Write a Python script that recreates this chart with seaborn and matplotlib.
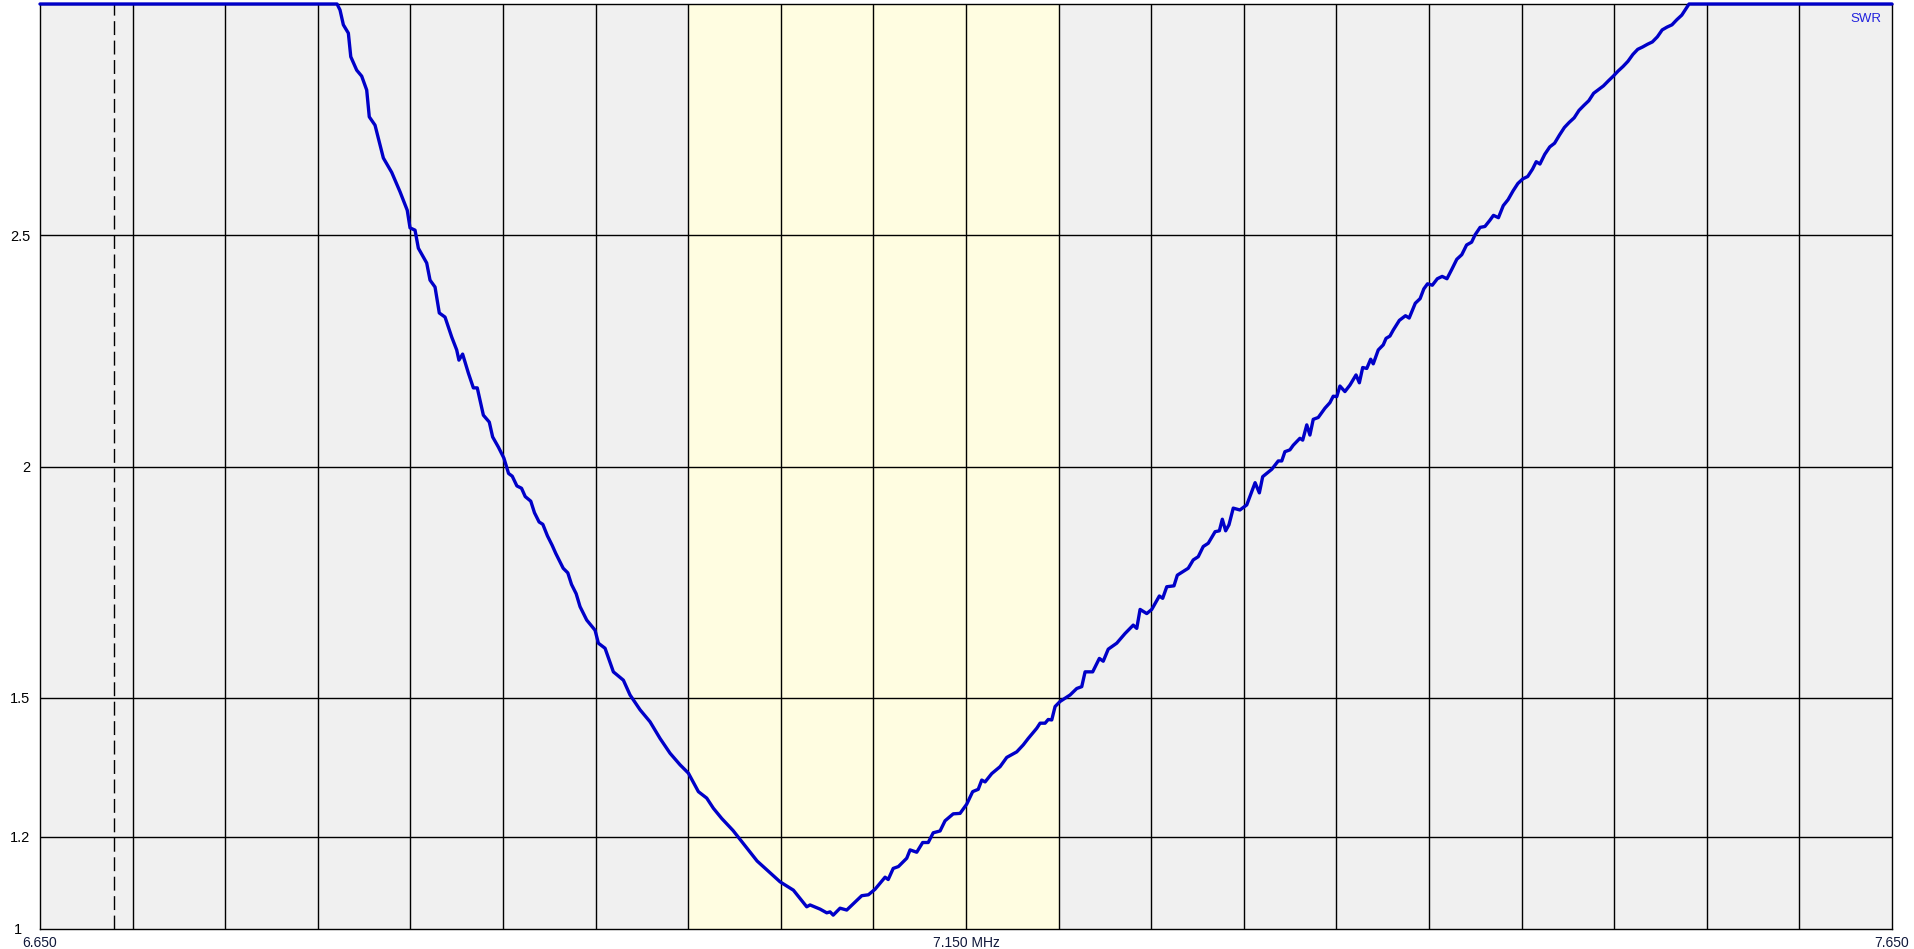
import numpy as np
import pandas as pd
import seaborn as sns
import matplotlib.pyplot as plt
from matplotlib.transforms import ScaledTranslation

# Dados da varredura (frequência em MHz, SWR)
freq_mhz = [
    6.6500, 6.8104, 6.8120, 6.8138, 6.8165, 6.8178, 6.8210, 6.8237, 6.8264, 6.8278,
    6.8309, 6.8354, 6.8399, 6.8444, 6.8483, 6.8498, 6.8525, 6.8543, 6.8588, 6.8606,
    6.8633, 6.8656, 6.8687, 6.8723, 6.8750, 6.8762, 6.8782, 6.8813, 6.8840, 6.8861,
    6.8894, 6.8926, 6.8944, 6.8975, 6.9005,
    6.9030, 6.9050, 6.9075, 6.9100, 6.9120, 6.9150, 6.9170, 6.9195, 6.9215, 6.9240,
    6.9265, 6.9285, 6.9300, 6.9325, 6.9350, 6.9370, 6.9395, 6.9416,
    6.9452, 6.9497, 6.9515, 6.9551, 6.9596, 6.9650, 6.9686, 6.9740, 6.9794, 6.9848,
    6.9902, 6.9956, 7.0001, 7.0055, 7.0100, 7.0136, 7.0181, 7.0242, 7.0372, 7.0496,
    7.0568, 7.0604, 7.0640, 7.0658, 7.0712, 7.0748, 7.0766, 7.0783, 7.0820, 7.0856,
    7.0937, 7.0973, 7.1009, 7.1063, 7.1080, 7.1107, 7.1135, 7.1180, 7.1198, 7.1234,
    7.1266, 7.1296, 7.1323, 7.1360, 7.1387, 7.1431, 7.1468, 7.1504, 7.1536, 7.1566,
    7.1585, 7.1603, 7.1639, 7.1684, 7.1720, 7.1774, 7.1809, 7.1836, 7.1882, 7.1900,
    7.1927, 7.1944, 7.1963, 7.1981, 7.2008, 7.2062, 7.2098, 7.2125, 7.2143, 7.2184,
    7.2220, 7.2241, 7.2268, 7.2314, 7.2359, 7.2403, 7.2422, 7.2440, 7.2476, 7.2503,
    7.2544, 7.2562, 7.2584, 7.2623, 7.2641, 7.2700, 7.2727, 7.2754, 7.2781, 7.2808,
    7.2845, 7.2868, 7.2884, 7.2902, 7.2920, 7.2943, 7.2979, 7.3016, 7.3033, 7.3061,
    7.3084, 7.3102, 7.3151, 7.3186, 7.3205, 7.3222, 7.3249, 7.3267, 7.3303, 7.3318,
    7.3340, 7.3357, 7.3375, 7.3402, 7.3438, 7.3465, 7.3483, 7.3502, 7.3519, 7.3546,
    7.3573, 7.3606, 7.3624, 7.3642, 7.3664, 7.3685, 7.3699, 7.3726, 7.3753, 7.3768,
    7.3789, 7.3807,
    7.3840, 7.3873, 7.3893, 7.3926, 7.3952, 7.3972, 7.3992, 7.4018, 7.4045, 7.4071,
    7.4097, 7.4124, 7.4150, 7.4177, 7.4203, 7.4230, 7.4249, 7.4276, 7.4302, 7.4328,
    7.4348, 7.4375, 7.4401, 7.4427, 7.4454, 7.4480, 7.4507, 7.4533, 7.4559, 7.4579,
    7.4599, 7.4625, 7.4652, 7.4678, 7.4705, 7.4731, 7.4757, 7.4784, 7.4810, 7.4837,
    7.4863, 7.4889, 7.4916, 7.4942, 7.4969, 7.4995, 7.5021, 7.5048, 7.5074, 7.5101,
    7.5127, 7.5153, 7.5180, 7.5206, 7.5233, 7.5259, 7.5285, 7.5312, 7.5338, 7.5365,
    7.5391, 7.5404, 7.6500,
]
swr = [
    3.000, 3.000, 2.987, 2.955, 2.937, 2.886, 2.857, 2.844, 2.814, 2.756,
    2.738, 2.667, 2.636, 2.594, 2.554, 2.516, 2.511, 2.472, 2.440, 2.403,
    2.388, 2.332, 2.323, 2.280, 2.252, 2.230, 2.243, 2.202, 2.170, 2.170,
    2.111, 2.096, 2.064, 2.042, 2.018,
    1.985, 1.979, 1.958, 1.953, 1.935, 1.925, 1.900, 1.880, 1.875, 1.850,
    1.830, 1.812, 1.800, 1.780, 1.770, 1.745, 1.725, 1.697,
    1.668, 1.646, 1.618, 1.607, 1.556, 1.538, 1.506, 1.474, 1.448, 1.412,
    1.380, 1.355, 1.337, 1.297, 1.283, 1.261, 1.239, 1.213, 1.147, 1.102,
    1.084, 1.066, 1.048, 1.052, 1.043, 1.035, 1.037, 1.030, 1.045, 1.041,
    1.072, 1.074, 1.086, 1.112, 1.107, 1.131, 1.135, 1.153, 1.171, 1.166,
    1.187, 1.187, 1.208, 1.212, 1.234, 1.249, 1.250, 1.270, 1.297, 1.302,
    1.322, 1.318, 1.336, 1.351, 1.371, 1.383, 1.398, 1.412, 1.434, 1.445,
    1.445, 1.453, 1.452, 1.481, 1.492, 1.506, 1.520, 1.524, 1.556, 1.556,
    1.585, 1.579, 1.605, 1.618, 1.639, 1.657, 1.650, 1.691, 1.682, 1.691,
    1.720, 1.715, 1.740, 1.742, 1.765, 1.780, 1.798, 1.805, 1.827, 1.834,
    1.859, 1.861, 1.886, 1.861, 1.874, 1.910, 1.906, 1.917, 1.935, 1.965,
    1.943, 1.978, 1.994, 2.012, 2.012, 2.032, 2.036, 2.046, 2.061, 2.057,
    2.090, 2.068, 2.102, 2.106, 2.126, 2.138, 2.152, 2.151, 2.174, 2.162,
    2.176, 2.198, 2.181, 2.214, 2.212, 2.232, 2.222, 2.252, 2.263, 2.277,
    2.282, 2.295,
    2.316, 2.326, 2.321, 2.353, 2.363, 2.384, 2.395, 2.392, 2.406, 2.411,
    2.406, 2.427, 2.448, 2.458, 2.479, 2.485, 2.501, 2.517, 2.519, 2.532,
    2.543, 2.538, 2.564, 2.577, 2.596, 2.612, 2.622, 2.627, 2.643, 2.659,
    2.654, 2.675, 2.691, 2.699, 2.717, 2.733, 2.744, 2.754, 2.770, 2.781,
    2.791, 2.807, 2.815, 2.823, 2.834, 2.844, 2.855, 2.865, 2.876, 2.891,
    2.902, 2.907, 2.913, 2.918, 2.929, 2.944, 2.950, 2.955, 2.966, 2.976,
    2.992, 3.000, 3.000,
]

# Eixos e marcações
x_min, x_max = 6.650, 7.650
x_grid_step = 0.05
x_tick_labels = {6.650: "6.650", 7.150: "7.150 MHz", 7.650: "7.650"}
y_min, y_max = 1.0, 3.0
y_ticks = [1.0, 1.2, 1.5, 2.0, 2.5]
y_tick_labels = ["1", "1.2", "1.5", "2", "2.5"]
band_start, band_end = 7.000, 7.200
marker_freq = 6.690

df = pd.DataFrame({"freq": freq_mhz, "swr": swr})

sns.set_style("white")
plt.rcParams["font.family"] = ["Liberation Sans", "DejaVu Sans"]

fig = plt.figure(figsize=(19.15, 9.49), dpi=100)
W, H = 1915, 949
ax = fig.add_axes([40 / W, (H - 929) / H, 1852 / W, 925 / H])
ax.set_facecolor("#f0f0f0")

ax.axvspan(band_start, band_end, color="#fffde1", zorder=0, lw=0)

# Grade
grid_x = np.round(np.arange(x_min, x_max + 1e-9, x_grid_step), 3)
for gx in grid_x[1:-1]:
    ax.axvline(gx, color="black", lw=1.0, zorder=1)
for gy in y_ticks[1:]:
    ax.axhline(gy, color="black", lw=1.0, zorder=1)

ax.axvline(marker_freq, color="black", lw=1.0, linestyle=(0, (10, 4)), zorder=2)

sns.lineplot(data=df, x="freq", y="swr", color="#0000c8", lw=2.4,
             sort=False, estimator=None, ax=ax, zorder=3, clip_on=False)

ax.set_xlim(x_min, x_max)
ax.set_ylim(y_min, y_max)

ax.set_xticks(list(x_tick_labels.keys()))
ax.set_xticklabels(list(x_tick_labels.values()), color="#10183a", fontsize=10)
ax.set_yticks(y_ticks)
ax.set_yticklabels(y_tick_labels, fontsize=10.5, color="black")
ax.tick_params(axis="both", length=0)
ax.tick_params(axis="x", pad=5)
ax.tick_params(axis="y", pad=7)

# rótulo "1" um pouco mais à esquerda, como na referência
lbl_1 = ax.get_yticklabels()[0]
lbl_1.set_transform(lbl_1.get_transform() + ScaledTranslation(-0.08, 0.0, fig.dpi_scale_trans))

ax.set_xlabel("")
ax.set_ylabel("")

for side in ["left", "right", "top", "bottom"]:
    ax.spines[side].set_visible(True)
    ax.spines[side].set_color("black")
    ax.spines[side].set_linewidth(1.0)

ax.text(0.9945, 1 - 9 / 925, "SWR", transform=ax.transAxes, ha="right", va="top",
        color="#2222dd", fontsize=9.5)

fig.savefig("out.png", dpi=100, facecolor="white")
